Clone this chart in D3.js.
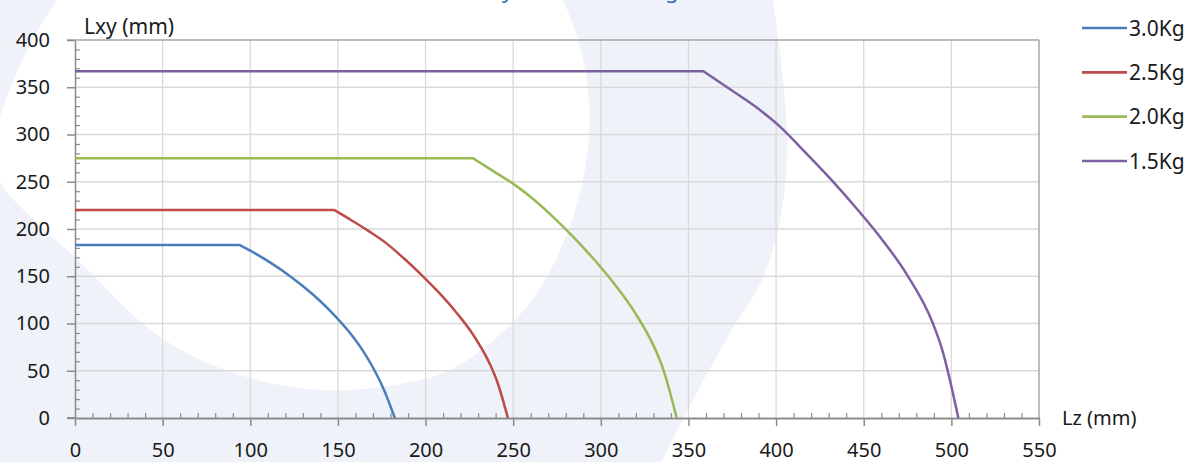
<!DOCTYPE html>
<html><head><meta charset="utf-8">
<script src="https://cdn.jsdelivr.net/npm/d3@7"></script>
<style>
body{margin:0;background:#fff}
svg{display:block}
text{font-family:"Noto Sans",sans-serif}
</style>
</head><body><svg id="c" width="1192" height="462"></svg>
<script>
// ---------- data ----------
const seriesNames = ["3.0Kg", "2.5Kg", "2.0Kg", "1.5Kg"];
const seriesColors = ["#4a7ebb", "#be4b48", "#98b954", "#7d60a0"];
const lz30 = [0, 94, 103, 111.7, 120.6, 129.4, 138.3, 147.1, 156, 164.5, 171, 176, 182.5];
const lxy30 = [183, 183, 174, 164.2, 153, 140.5, 126.5, 110.5, 92, 70.5, 50, 31, 0];
const lz25 = [0, 148, 157.9, 167.8, 177.7, 187.6, 197.5, 207.4, 217.3, 227.2, 237.1, 240.6, 247];
const lxy25 = [220, 220, 209, 197.5, 184.8, 169, 151.8, 133.1, 112.2, 88, 55.5, 40, 0];
const lz20 = [0, 227, 238.6, 250.3, 261.9, 273.5, 285.2, 296.8, 308.4, 320, 331.7, 335.7, 343.3];
const lxy20 = [275, 275, 261.3, 247.5, 231, 211.5, 189.8, 166.4, 140.3, 110, 70, 51, 0];
const lz15 = [0, 358.5, 373.1, 387.6, 402.2, 416.7, 431.3, 445.8, 460.4, 474.9, 489.5, 494.5, 504];
const lxy15 = [367, 367, 348.7, 330.3, 308.3, 281, 252.5, 222, 189, 151, 100, 74, 0];
const seriesLz = [lz30, lz25, lz20, lz15];
const seriesLxy = [lxy30, lxy25, lxy20, lxy15];
const xTicks = [0, 50, 100, 150, 200, 250, 300, 350, 400, 450, 500, 550];
const yTicks = [0, 50, 100, 150, 200, 250, 300, 350, 400];
const xTitle = "Lz (mm)";
const yTitle = "Lxy (mm)";
const chartTitle = "Payload vs Working";

// ---------- setup ----------
const svg = d3.select("#c");
const W = 1192, H = 462;
const x = d3.scaleLinear().domain([0, 550]).range([75, 1039]);
const y = d3.scaleLinear().domain([0, 400]).range([418, 40]);

// background watermark
const bg = svg.append("g");
bg.append("rect").attr("width", W).attr("height", H).attr("fill", "#ffffff");
const outer = [[770,-20],[773,0],[785,100],[787,160],[780,220],[762,280],[730,333],[684,417],[662,462],[650,490]];
const outerPath = d3.line().curve(d3.curveCatmullRom)(outer);
bg.append("path")
  .attr("d", "M-10,-20 L770,-20 " + outerPath.replace(/^M/, "L") + " L-10,490 Z")
  .attr("fill", "#eff2f8");
const inner = [[57,0],[25,55],[3,108],[-8,148],[0,182],[80,262],[160,337],[240,375],[320,390],[400,384],[456,367],[532,300],[578,200],[589,100],[563,0],[480,-120],[300,-200],[150,-120]];
bg.append("path").attr("d", d3.line().curve(d3.curveCatmullRomClosed)(inner)).attr("fill", "#ffffff");

// title (mostly cut off at top)
const title = svg.append("text").text(chartTitle)
  .attr("x", 0).attr("y", -2)
  .attr("fill", "#2e6ab4").style("font-size", "30px");
{
  const n = title.node();
  const iy = chartTitle.indexOf("y"), ig = chartTitle.lastIndexOf("g");
  const d = n.getStartPositionOfChar(ig).x - n.getStartPositionOfChar(iy).x;
  const fs = 30 * 163 / d;
  title.style("font-size", fs + "px");
  const sx = n.getStartPositionOfChar(iy).x;
  title.attr("x", 502 - sx);
}

// gridlines
const grid = svg.append("g");
grid.selectAll("line.v").data(xTicks.filter(v => v > 0 && v < 550)).join("line")
  .attr("x1", d => x(d)).attr("x2", d => x(d)).attr("y1", y(400)).attr("y2", y(0))
  .attr("stroke", "#d9d9d9").attr("stroke-width", 1.3);
grid.selectAll("line.h").data(yTicks.filter(v => v > 0 && v < 400)).join("line")
  .attr("x1", x(0)).attr("x2", x(550)).attr("y1", d => y(d)).attr("y2", d => y(d))
  .attr("stroke", "#d9d9d9").attr("stroke-width", 1.3);

// plot border top & right
svg.append("line").attr("x1", x(0) - 8).attr("x2", x(550)).attr("y1", y(400)).attr("y2", y(400))
  .attr("stroke", "#a6a6a6").attr("stroke-width", 1.5);
svg.append("line").attr("x1", x(550)).attr("x2", x(550)).attr("y1", y(400)).attr("y2", y(0))
  .attr("stroke", "#a6a6a6").attr("stroke-width", 1.5);

// minor ticks
const minorX = d3.range(10, 550, 10).filter(v => v % 50 !== 0);
const minorY = d3.range(10, 400, 10).filter(v => v % 50 !== 0);
svg.append("g").attr("transform", `translate(0,${y(0)})`)
  .call(d3.axisTop(x).tickValues(minorX).tickSize(5).tickFormat(""))
  .call(g => g.select(".domain").remove())
  .call(g => g.selectAll("line").attr("stroke", "#8c8c8c").attr("stroke-width", 1.2));
svg.append("g").attr("transform", `translate(${x(0)},0)`)
  .call(d3.axisRight(y).tickValues(minorY).tickSize(5).tickFormat(""))
  .call(g => g.select(".domain").remove())
  .call(g => g.selectAll("line").attr("stroke", "#8c8c8c").attr("stroke-width", 1.2));

// x axis
const xa = svg.append("g").attr("transform", `translate(0,${y(0)})`)
  .call(d3.axisBottom(x).tickValues(xTicks).tickSize(8).tickPadding(17).tickSizeOuter(0));
xa.select(".domain").attr("stroke", "#8c8c8c").attr("stroke-width", 2);
xa.selectAll("line").attr("stroke", "#8c8c8c").attr("stroke-width", 1.5);
xa.selectAll("text").attr("fill", "#1a1a1a").style("font-size", "20px").style("font-family", '"Noto Sans",sans-serif');
// y axis
const ya = svg.append("g").attr("transform", `translate(${x(0)},0)`)
  .call(d3.axisLeft(y).tickValues(yTicks).tickSize(8).tickPadding(17).tickSizeOuter(0));
ya.select(".domain").attr("stroke", "#8c8c8c").attr("stroke-width", 1.5);
ya.selectAll("line").attr("stroke", "#8c8c8c").attr("stroke-width", 1.5);
ya.selectAll("text").attr("fill", "#1a1a1a").style("font-size", "20px").style("font-family", '"Noto Sans",sans-serif');
svg.append("line").attr("x1", x(0) - 8).attr("x2", x(0)).attr("y1", y(0)).attr("y2", y(0))
  .attr("stroke", "#8c8c8c").attr("stroke-width", 2);

// axis titles
svg.append("text").text(yTitle).attr("x", 84).attr("y", 34).attr("fill", "#1a1a1a").style("font-size", "21px");
svg.append("text").text(xTitle).attr("x", 1062).attr("y", 425).attr("fill", "#1a1a1a").style("font-size", "20px");

// series: flat part straight, curved part smooth
const flat = d3.line().x(d => x(d[0])).y(d => y(d[1]));
const curved = d3.line().x(d => x(d[0])).y(d => y(d[1])).curve(d3.curveMonotoneX);
seriesNames.forEach((name, i) => {
  const pts = seriesLz[i].map((v, j) => [v, seriesLxy[i][j]]);
  svg.append("path").attr("d", flat(pts.slice(0, 2)) + "L" + curved(pts.slice(1)).slice(1))
    .attr("fill", "none").attr("stroke", seriesColors[i]).attr("stroke-width", 2.5)
    .attr("stroke-linejoin", "round");
});

// legend
const legY = d3.scalePoint().domain(seriesNames).range([28, 161]);
const leg = svg.append("g");
seriesNames.forEach((name, i) => {
  leg.append("line").attr("x1", 1082).attr("x2", 1127).attr("y1", legY(name)).attr("y2", legY(name))
    .attr("stroke", seriesColors[i]).attr("stroke-width", 2.6);
  leg.append("text").text(name).attr("x", 1129).attr("y", legY(name)).attr("dy", "0.36em")
    .attr("fill", "#1a1a1a").style("font-size", "21px");
});
</script>
</body></html>
